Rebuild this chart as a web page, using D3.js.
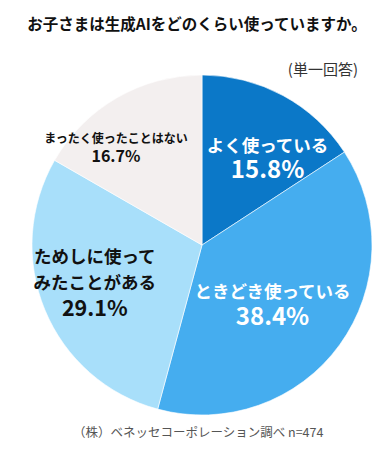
<!DOCTYPE html>
<html>
<head>
<meta charset="utf-8">
<script src="https://cdn.jsdelivr.net/npm/d3@7"></script>
<style>
  body { margin: 0; background: #fff; }
  svg text { font-family: "Noto Sans CJK JP", "Noto Sans", sans-serif; }
</style>
</head>
<body>
<div id="chart"></div>
<script>
// data
var categories = ["よく使っている", "ときどき使っている", "ためしに使ってみたことがある", "まったく使ったことはない"];
var values = [15.8, 38.4, 29.1, 16.7];
var labelLines = [
    ["よく使っている"],
    ["ときどき使っている"],
    ["ためしに使って", "みたことがある"],
    ["まったく使ったことはない"]
];
var colors = ["#0b78c8", "#45adef", "#a8dffa", "#f3efef"];

var width = 389, height = 459;
var cx = 202, cy = 245, radius = 170;

// label look, one per slice (offsets from the arc centroid)
var labelStyle = [
    {size: 17.5, pct: 24, fill: "#fff", lh: 24, dx: 17, dy: 2},
    {size: 17.5, pct: 24, fill: "#fff", lh: 24, dx: -12, dy: -1},
    {size: 17.5, pct: 21.5, fill: "#111", lh: 25.5, dx: -13, dy: -1.5},
    {size: 12, pct: 16, fill: "#111", lh: 18, dx: -35, dy: -9}
];

var svg = d3.select("#chart").append("svg")
    .attr("width", width)
    .attr("height", height);

// title
svg.append("text")
    .attr("x", 197)
    .attr("y", 30)
    .attr("text-anchor", "middle")
    .attr("font-size", 15.5)
    .attr("font-weight", "bold")
    .attr("fill", "#111")
    .text("お子さまは生成AIをどのくらい使っていますか。");

svg.append("text")
    .attr("x", 358)
    .attr("y", 75)
    .attr("text-anchor", "end")
    .attr("font-size", 15)
    .attr("fill", "#333")
    .text("(単一回答)");

var pie = d3.pie().sort(null).value(function(d){ return d; });
var arcs = pie(values);

var arc = d3.arc().innerRadius(0).outerRadius(radius);
var labelArc = d3.arc().innerRadius(radius * 0.6).outerRadius(radius * 0.6);

var g = svg.append("g")
    .attr("transform", "translate(" + cx + "," + cy + ")");

g.selectAll("path.slice")
    .data(arcs)
    .enter().append("path")
    .attr("class", "slice")
    .attr("d", arc)
    .attr("fill", function(d, i){ return colors[i]; })
    .attr("stroke", "#fff")
    .attr("stroke-width", 0.6);

//labels: text lines then the percentage
arcs.forEach(function(d, i){
    var c = labelArc.centroid(d);
    var st = labelStyle[i];
    var lines = labelLines[i];
    var n = lines.length + 1;
    var x = c[0] + st.dx;
    var y0 = c[1] + st.dy - (n - 1) * st.lh / 2;
    var lab = g.append("g").attr("class", "label");
    lines.forEach(function(line, k){
        lab.append("text")
            .attr("x", x)
            .attr("y", y0 + k * st.lh)
            .attr("dy", "0.36em")
            .attr("text-anchor", "middle")
            .attr("font-size", st.size)
            .attr("font-weight", "bold")
            .attr("fill", st.fill)
            .text(line);
    });
    lab.append("text")
        .attr("x", x)
        .attr("y", y0 + lines.length * st.lh)
        .attr("dy", "0.36em")
        .attr("text-anchor", "middle")
        .attr("font-size", st.pct)
        .attr("font-weight", "bold")
        .attr("fill", st.fill)
        .text(d3.format(".1f")(d.data) + "%");
});

// source note
svg.append("text")
    .attr("x", 73)
    .attr("y", 437)
    .attr("font-size", 12.5)
    .attr("fill", "#555")
    .text("（株）ベネッセコーポレーション調べ n=474");
</script>
</body>
</html>
